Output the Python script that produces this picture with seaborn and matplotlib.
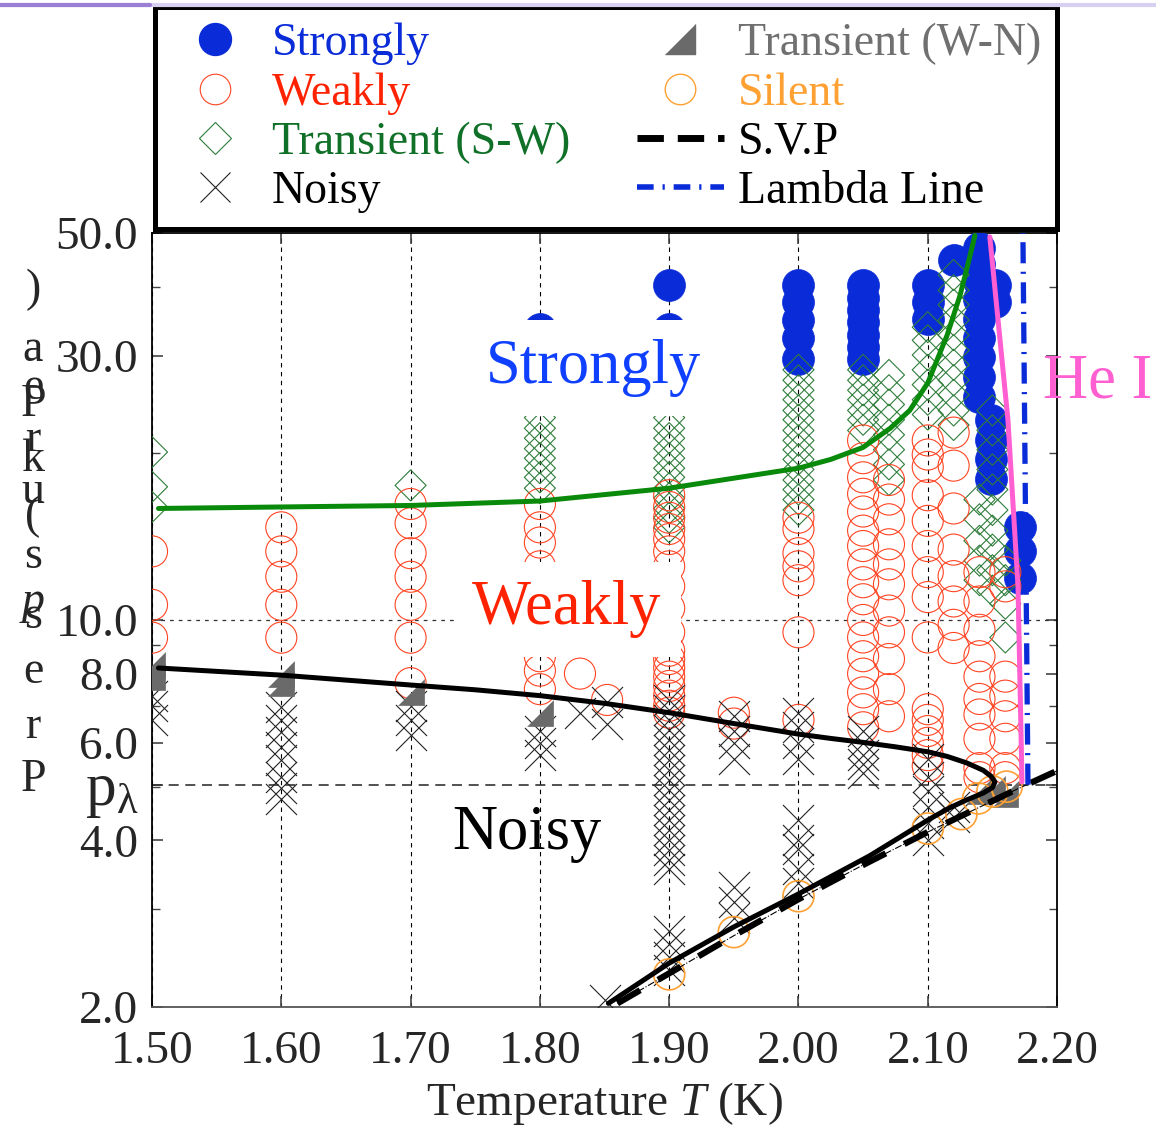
import numpy as np
import pandas as pd
import matplotlib
matplotlib.use("Agg")
import matplotlib.pyplot as plt
from matplotlib.lines import Line2D
from matplotlib.ticker import FixedLocator, NullFormatter
import seaborn as sns

# ---- data (T in K, p in kPa) ----
strongly_T = [1.80, 1.90, 1.90,
              2.00, 2.00, 2.00, 2.00, 2.00,
              2.05, 2.05, 2.05, 2.05, 2.05, 2.05, 2.05,
              2.10, 2.10, 2.10,
              2.12,
              2.14, 2.14, 2.14, 2.14, 2.14, 2.14, 2.14, 2.14, 2.14,
              2.152, 2.152,
              2.149, 2.149, 2.149, 2.149,
              2.171, 2.171, 2.171]
strongly_p = [33.5, 40.3, 33.5,
              40.3, 37.6, 34.8, 32.3, 29.6,
              40.3, 38.2, 36.3, 34.5, 32.7, 31.1, 29.6,
              40.3, 37.6, 35.0,
              44.7,
              47.0, 44.0, 41.0, 38.0, 35.0, 32.3, 29.8, 27.5, 25.3,
              40.3, 37.6,
              23.0, 21.1, 19.5, 18.0,
              14.7, 13.3, 11.9]

tsw_T = [1.5] * 3 + [1.7] + [1.8] * 8 + [1.9] * 12 + [2.0] * 15 + [2.05] * 7 \
    + [2.07] * 8 + [2.10] * 7 + [2.12] * 11 + [2.14] * 5 + [2.15] * 10 + [2.16] * 4
tsw_p = [20.1, 17.4, 16.0,
         17.5,
         23.2, 22.2, 21.3, 20.4, 19.6, 18.8, 18.1, 17.3,
         23.2, 22.2, 21.3, 20.4, 19.6, 18.8, 18.1, 17.3, 16.6, 15.9, 15.3, 14.7,
         28.3, 27.1, 26.0, 25.0, 23.9, 23.0, 22.0, 21.1, 20.3, 19.5, 18.7, 17.9, 17.2, 16.5, 15.8,
         28.3, 27.1, 26.0, 25.0, 23.9, 23.0, 22.0,
         27.7, 26.0, 24.5, 23.0, 21.6, 20.3, 19.1, 17.9,
         33.8, 32.0, 30.1, 28.3, 26.6, 25.0, 23.5,
         42.0, 39.4, 37.1, 34.8, 32.7, 30.7, 28.9, 27.1, 25.5, 23.9, 22.5,
         16.5, 15.2, 13.9, 12.8, 11.8,
         23.9, 22.0, 20.3, 18.7, 17.2, 15.8, 14.5, 13.4, 12.3, 11.3,
         12.8, 11.8, 10.7, 9.3]

weak_T = [1.5] * 3 + [1.6] * 5 + [1.7] * 7 + [1.8] * 9 + [1.831, 1.852] + [1.9] * 18 \
    + [1.95] * 2 + [2.0] * 7 + [2.05] * 17 + [2.07] * 11 + [2.10] * 15 + [2.12] * 8 \
    + [2.14] * 10 + [2.16] * 8
weak_p = [13.3, 10.65, 9.29,
          14.7, 13.3, 11.97, 10.65, 9.29,
          16.2, 14.95, 13.2, 11.97, 10.65, 9.29, 7.69,
          16.2, 14.7, 13.8, 12.5, 11.0, 9.8, 8.6, 8.1, 7.5,
          8.0, 7.17,
          16.8, 16.0, 15.3, 14.6, 14.0, 13.3, 12.5, 11.5, 10.5, 9.5, 8.8, 8.5, 8.2, 7.9, 7.6, 7.3, 7.0, 6.8,
          6.8, 6.5,
          15.3, 14.6, 13.2, 12.5, 11.8, 9.5, 6.6,
          21.1, 19.6, 18.1, 16.9, 15.7, 14.5, 13.6, 12.6, 11.7, 10.9, 10.0, 9.3, 8.6, 8.0, 7.4, 6.9, 6.4,
          17.9, 16.5, 15.2, 13.7, 12.6, 11.6, 10.4, 9.5, 8.5, 7.5, 6.7,
          21.1, 19.9, 18.9, 16.8, 15.1, 13.6, 12.2, 11.0, 9.3, 6.9, 6.6, 6.3, 6.0, 5.7, 5.45,
          21.8, 19.0, 15.9, 13.4, 12.0, 10.8, 9.8, 8.9,
          12.2, 10.8, 9.6, 8.6, 7.9, 7.2, 6.75, 6.1, 5.4, 5.2,
          12.2, 11.5, 7.9, 7.3, 6.7, 6.1, 5.4, 5.2]

noisy_T = [1.5] * 3 + [1.6] * 8 + [1.7] * 3 + [1.8] * 3 + [1.831, 1.852, 1.852] \
    + [1.9] * 22 + [1.95] * 7 + [2.0] * 9 + [2.05] * 5 + [2.10] * 6 + [2.12] * 2 + [1.85]
noisy_p = [7.3, 7.0, 6.6,
           6.97, 6.6, 6.28, 5.9, 5.59, 5.21, 4.97, 4.75,
           7.0, 6.6, 6.2,
           6.3, 6.0, 5.7,
           6.8, 7.1, 6.5,
           7.17, 6.88, 6.6, 6.34, 6.07, 5.83, 5.59, 5.36, 5.14, 4.93, 4.73, 4.54, 4.35, 4.18, 4.0,
           3.84, 3.69, 3.55, 2.74, 2.6, 2.46, 2.33,
           6.7, 6.3, 6.0, 5.6, 3.3, 3.1, 2.9,
           6.8, 6.4, 6.0, 5.6, 4.35, 4.0, 3.85, 3.55, 3.35,
           6.3, 6.0, 5.7, 5.5, 5.3,
           5.6, 5.2, 4.9, 4.6, 4.3, 4.0,
           4.6, 4.4,
           2.06]

twn_T = [1.5, 1.5, 1.6, 1.6, 1.7, 1.8, 2.14, 2.15, 2.16]
twn_p = [8.3, 7.9, 8.0, 7.7, 7.4, 6.8, 4.9, 4.95, 4.85]

silent_T = [1.9, 1.95, 2.0, 2.1, 2.126, 2.139, 2.15, 2.161]
silent_p = [2.29, 2.73, 3.17, 4.2, 4.46, 4.76, 4.9, 5.0]

# boundary curves
green_T = [1.505, 1.60, 1.70, 1.80, 1.90, 2.00, 2.025, 2.05, 2.071, 2.086, 2.10,
           2.115, 2.125, 2.13, 2.1365]
green_p = [15.9, 16.0, 16.1, 16.4, 17.3, 18.8, 19.5, 20.5, 22.2, 23.9, 26.8,
           32.7, 38.6, 42.9, 49.5]

black_T = [1.505, 1.60, 1.70, 1.75, 1.80, 1.85, 1.90, 1.95, 2.00, 2.025, 2.05, 2.075,
           2.10, 2.115, 2.13, 2.143, 2.149, 2.152,
           2.150, 2.143, 2.13, 2.117, 2.10, 2.055, 2.00, 1.95, 1.90, 1.853]
black_p = [8.19, 7.95, 7.63, 7.48, 7.30, 7.07, 6.80, 6.50, 6.22, 6.11, 6.01, 5.90,
           5.78, 5.67, 5.52, 5.35, 5.22, 5.10,
           4.98, 4.87, 4.73, 4.58, 4.35, 3.75, 3.20, 2.79, 2.40, 2.03]

svp_T = [1.86, 1.90, 1.95, 2.00, 2.05, 2.10, 2.15, 2.17, 2.20]
svp_p = [2.03, 2.30, 2.69, 3.13, 3.61, 4.14, 4.71, 4.96, 5.34]

lambda_T = [2.1775, 2.1736]
lambda_p = [5.04, 50.0]

pink_T = [2.148, 2.162, 2.1698, 2.1729]
pink_p = [49.2, 23.0, 11.5, 5.1]

p_lambda = 5.04
x_ticks = [1.5, 1.6, 1.7, 1.8, 1.9, 2.0, 2.1, 2.2]
y_ticks = [2.0, 4.0, 6.0, 8.0, 10.0, 30.0, 50.0]
y_minor = [3.0, 5.0, 7.0, 9.0, 20.0, 40.0]

BLUE = '#0a2bd8'
RED = '#ff4422'
GREEN = '#2e7d3a'
GRAY = '#6a6a6a'
ORANGE = '#ffa033'

sns.set_style('ticks')
plt.rcParams['font.family'] = ['Liberation Serif', 'DejaVu Serif']
plt.rcParams['mathtext.fontset'] = 'custom'
plt.rcParams['mathtext.rm'] = 'Liberation Serif'
plt.rcParams['mathtext.it'] = 'Liberation Serif:italic'

fig = plt.figure(figsize=(11.56, 11.36), dpi=100)
ax = fig.add_axes([0.1315, 0.1136, 0.7829, 0.6813])

tri = [(-1, -1), (1, -1), (1, 1)]

sns.scatterplot(x=strongly_T, y=strongly_p, ax=ax, marker='o', s=530,
                facecolor=BLUE, edgecolor=BLUE, linewidth=0.5, zorder=3)
sns.scatterplot(x=tsw_T, y=tsw_p, ax=ax, marker='D', s=250,
                facecolor='none', edgecolor=GREEN, linewidth=0.8, zorder=4)
sns.scatterplot(x=weak_T, y=weak_p, ax=ax, marker='o', s=500,
                facecolor='none', edgecolor=RED, linewidth=0.8, zorder=4)
sns.scatterplot(x=noisy_T, y=noisy_p, ax=ax, marker='x', s=500,
                color='#222222', linewidth=0.8, zorder=4)
sns.scatterplot(x=twn_T, y=twn_p, ax=ax, marker=tri, s=330,
                facecolor=GRAY, edgecolor=GRAY, linewidth=0.5, zorder=4)
sns.scatterplot(x=silent_T, y=silent_p, ax=ax, marker='o', s=500,
                facecolor='none', edgecolor=ORANGE, linewidth=1.2, zorder=4)

curves = pd.DataFrame({'T': black_T, 'p': black_p})
sns.lineplot(x=green_T, y=green_p, ax=ax, sort=False, estimator=None,
             color='#0a8a0a', lw=3.6, zorder=6)
sns.lineplot(data=curves, x='T', y='p', ax=ax, sort=False, estimator=None,
             color='black', lw=3.6, zorder=6)
sns.lineplot(x=svp_T, y=svp_p, ax=ax, sort=False, estimator=None,
             color='black', lw=0.8, linestyle='-.', zorder=6)
sns.lineplot(x=svp_T, y=svp_p, ax=ax, sort=False, estimator=None,
             color='black', lw=4.5, linestyle=(0, (4.2, 3.3)), zorder=6, clip_on=False)
sns.lineplot(x=pink_T, y=pink_p, ax=ax, sort=False, estimator=None,
             color='#ff5fd0', lw=3.6, zorder=7)
sns.lineplot(x=lambda_T, y=lambda_p, ax=ax, sort=False, estimator=None,
             color=BLUE, lw=3.8, linestyle=(0, (4, 1.6, 0.4, 1.6)), zorder=7)

# guide lines
ax.grid(axis='x', color='black', lw=0.8, linestyle=(0, (4, 4)))
ax.axhline(10.0, color='#333333', lw=0.9, linestyle=(0, (3, 4)), zorder=1)
ax.axhline(p_lambda, color='#333333', lw=1.2, linestyle=(0, (6, 4)), zorder=1)

ax.set_yscale('log')
ax.set_xlim(1.5, 2.2)
ax.set_ylim(2.0, 50.0)
ax.set_xticks(x_ticks)
ax.set_xticklabels([f'{t:.2f}' for t in x_ticks])
ax.yaxis.set_major_locator(FixedLocator(y_ticks + [p_lambda]))
ax.set_yticklabels([f'{v:.1f}' for v in y_ticks] + [r'$\mathregular{p_{\lambda}}$'])
ax.yaxis.set_minor_locator(FixedLocator(y_minor))
ax.yaxis.set_minor_formatter(NullFormatter())
ax.tick_params(which='both', direction='in', top=True, right=True, color='#444444')
ax.tick_params(which='major', length=8, width=1.2, labelsize=34)
ax.tick_params(axis='x', pad=17)
ax.tick_params(axis='y', pad=10)
ax.tick_params(which='minor', length=6, width=1.0)
ax.get_yticklabels()[-1].set_fontsize(44)
for s in ax.spines.values():
    s.set_linewidth(1.3)
    s.set_color('black')
ax.spines['bottom'].set_color('#555555')
ax.set_xlabel(r'Temperature $T$ (K)', fontsize=34, labelpad=5)
ax.set_ylabel('')

# region labels
ax.text(1.8411, 28.5, 'Strongly', color='#1040ff', fontsize=45, ha='center', va='center',
        zorder=5, bbox=dict(boxstyle='square,pad=0.3', fc='white', ec='none'))
ax.text(1.821, 10.45, 'Weakly', color='#ff2200', fontsize=45, ha='center', va='center',
        zorder=5, bbox=dict(boxstyle='square,pad=0.3', fc='white', ec='none'))
ax.text(1.79, 4.1, 'Noisy', color='black', fontsize=45, ha='center', va='center', zorder=5)
ax.text(2.1891, 26.8, 'He I', color='#ff5fd0', fontsize=45, ha='left', va='center',
        clip_on=False)

# stacked y-axis title
for ch, ypx in zip('Pressure', [780, 727, 672, 617, 557, 492, 440, 388]):
    fig.text(33 / 1156, 1 - ypx / 1136, ch, fontsize=33, ha='center', va='center')
for ch, ypx in zip('p(kPa)', [602, 517, 460, 405, 350, 290]):
    fig.text(33 / 1156, 1 - ypx / 1136, ch, fontsize=33, ha='center', va='center',
             fontstyle='italic' if ch == 'p' else 'normal')

# legend
handles = [
    Line2D([], [], ls='', marker='o', ms=23, mfc=BLUE, mec=BLUE),
    Line2D([], [], ls='', marker='o', ms=22, mfc='none', mec=RED, mew=0.8),
    Line2D([], [], ls='', marker='D', ms=15.8, mfc='none', mec=GREEN, mew=0.8),
    Line2D([], [], ls='', marker='x', ms=22, color='#222222', mew=0.8),
    Line2D([], [], ls='', marker=tri, ms=22, mfc=GRAY, mec=GRAY),
    Line2D([], [], ls='', marker='o', ms=22, mfc='none', mec=ORANGE, mew=1.0),
    Line2D([], [], color='black', lw=5, linestyle=(0, (3.8, 2))),
    Line2D([], [], color=BLUE, lw=4, linestyle=(0, (3, 1.6, 0.4, 1.6))),
]
labels = ['Strongly', 'Weakly', 'Transient (S-W)', 'Noisy',
          'Transient (W-N)', 'Silent', 'S.V.P', 'Lambda Line']
leg = ax.legend(handles, labels, ncol=2, loc='center', mode='expand',
                bbox_to_anchor=(155 / 1156, 1 - 228 / 1136, 902 / 1156, 220 / 1136),
                bbox_transform=fig.transFigure, fontsize=33, frameon=True,
                fancybox=False, edgecolor='black', framealpha=1,
                handlelength=1.9, handletextpad=0.3, labelspacing=0.15,
                borderpad=0.35, borderaxespad=0.0,
                labelcolor=[BLUE, '#ff2200', '#107028', 'black', '#707070', ORANGE,
                            'black', 'black'])
leg.get_frame().set_linewidth(3.6)
leg.set_zorder(10)

# slide decoration line at top
fig.add_artist(Line2D([0, 1], [0.996, 0.996], color='#d8d0f0', lw=3))
fig.add_artist(Line2D([0, 0.13], [0.996, 0.996], color='#9b7fd4', lw=3))

fig.savefig('out.png', dpi=100)
